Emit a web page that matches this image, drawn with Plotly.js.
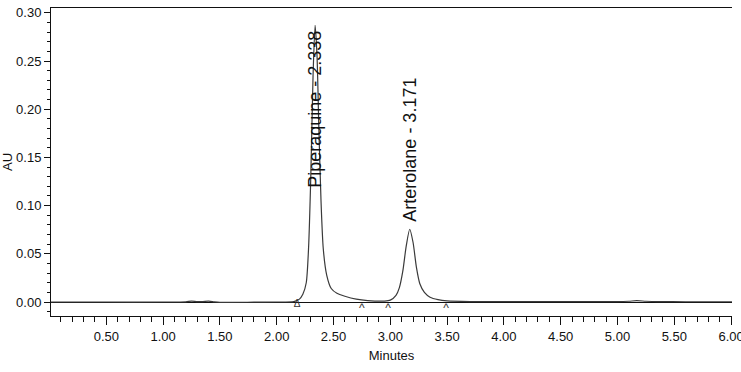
<!DOCTYPE html>
<html>
<head>
<meta charset="utf-8">
<script src="https://cdn.plot.ly/plotly-3.0.1.min.js"></script>
<style>
  html, body { margin: 0; padding: 0; background: #fff; }
  #chart { width: 741px; height: 372px; }
</style>
</head>
<body>
<div id="chart"></div>
<script>
// Retention time (minutes) and absorbance (AU)
const timeMin = [0.01, 0.50, 1.00, 1.20, 1.25, 1.30, 1.35, 1.40, 1.45, 1.50, 1.80, 2.00, 2.15, 2.20, 2.23, 2.26, 2.28, 2.30, 2.32, 2.338, 2.355, 2.37, 2.39, 2.41, 2.44, 2.48, 2.53, 2.60, 2.70, 2.80, 2.95, 3.00, 3.05, 3.08, 3.11, 3.14, 3.171, 3.20, 3.23, 3.26, 3.30, 3.35, 3.42, 3.50, 3.70, 4.00, 4.50, 5.00, 5.10, 5.17, 5.25, 5.35, 5.60, 6.01];
const absAU   = [0.0000, 0.0000, 0.0000, 0.0002, 0.0010, 0.0004, 0.0005, 0.0009, 0.0002, -0.0003, -0.0002, 0.0000, 0.0005, 0.0030, 0.0080, 0.0200, 0.0550, 0.1300, 0.2350, 0.2870, 0.2550, 0.1850, 0.1050, 0.0550, 0.0280, 0.0140, 0.0090, 0.0060, 0.0030, 0.0015, 0.0010, 0.0020, 0.0070, 0.0150, 0.0320, 0.0580, 0.0755, 0.0620, 0.0360, 0.0190, 0.0100, 0.0050, 0.0025, 0.0012, 0.0005, 0.0004, 0.0004, 0.0004, 0.0008, 0.0014, 0.0008, 0.0004, 0.0003, 0.0003];

// Peak labels
const peakNames = ["Piperaquine - 2.338", "Arterolane - 3.171"];
const peakTimes = [2.338, 3.171];
const peakLabelBase = [0.116, 0.081];

// Integration event marks (start/end of peaks)
const eventTimes = [2.18, 2.75, 2.98, 3.49];
const eventMarks = ["\u0394", "^", "^", "^"];

const traces = [
  {
    x: timeMin, y: absAU, type: 'scatter', mode: 'lines',
    line: { color: '#3a3a3a', width: 1.2, shape: 'spline', smoothing: 0.7 },
    hoverinfo: 'skip', showlegend: false
  },
  {
    x: eventTimes, y: eventMarks.map(m => m === "^" ? -0.0072 : -0.0022), type: 'scatter', mode: 'text',
    text: eventMarks, textposition: 'middle center',
    textfont: { family: 'Liberation Sans, Arial, sans-serif', size: eventMarks.map(m => m === "^" ? 12 : 10), color: '#333' },
    hoverinfo: 'skip', showlegend: false
  }
];

const annotations = peakNames.map((name, i) => ({
  x: peakTimes[i], y: peakLabelBase[i], xref: 'x', yref: 'y',
  text: name, showarrow: false, textangle: -90,
  xanchor: 'center', yanchor: 'bottom',
  font: { family: 'Liberation Sans, Arial, sans-serif', size: 18, color: '#111' }
}));

const layout = {
  width: 741, height: 372,
  margin: { l: 51, r: 9, t: 8, b: 56 },
  paper_bgcolor: '#fff', plot_bgcolor: '#fff',
  font: { family: 'Liberation Sans, Arial, sans-serif', color: '#111', size: 13 },
  xaxis: {
    range: [0.013, 6.008], showgrid: false, zeroline: false,
    showline: true, linecolor: '#111', linewidth: 1, mirror: true,
    ticks: 'outside', ticklen: 8, tickcolor: '#111', tickwidth: 1,
    tick0: 0, dtick: 0.5, tickformat: '.2f', ticklabeloverflow: 'allow',
    minor: { ticks: 'outside', ticklen: 5, dtick: 0.1, tick0: 0, tickcolor: '#111', showgrid: false },
    tickfont: { size: 13, color: '#111' },
    title: { text: 'Minutes', font: { size: 13, color: '#111' }, standoff: 8 }
  },
  yaxis: {
    range: [-0.0145, 0.305], showgrid: false,
    zeroline: true, zerolinecolor: '#111', zerolinewidth: 1,
    showline: true, linecolor: '#111', linewidth: 1,
    ticks: 'outside', ticklen: 6, tickcolor: '#111', tickwidth: 1,
    tick0: 0, dtick: 0.05, tickformat: '.2f',
    minor: { ticks: 'outside', ticklen: 3, dtick: 0.01, tick0: 0, tickcolor: '#111', showgrid: false },
    tickfont: { size: 13, color: '#111' },
    title: { text: 'AU', font: { size: 13, color: '#111' }, standoff: 6 }
  },
  annotations: annotations,
  showlegend: false
};

Plotly.newPlot('chart', traces, layout, { staticPlot: true, displayModeBar: false });
</script>
</body>
</html>
